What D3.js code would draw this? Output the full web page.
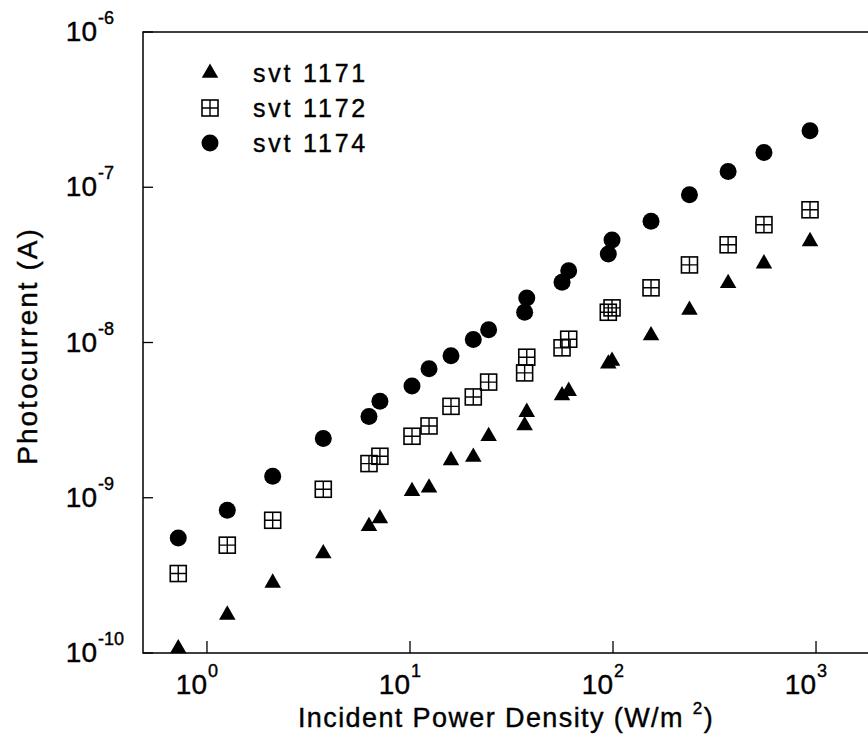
<!DOCTYPE html>
<html lang="en">
<head>
  <meta charset="utf-8">
  <title>Photocurrent vs incident power density</title>
  <script src="https://d3js.org/d3.v7.min.js"></script>
  <style>
    body { margin: 0; background: white; }
    text { font-family: "Liberation Sans", Arial, sans-serif; fill: black; stroke: black; stroke-width: 0.4px; }
    .axis-line { stroke: black; stroke-width: 1.5; fill: none; }
    .tick { stroke: black; stroke-width: 1.3; }
  </style>
</head>
<body>
  <div id="chart"></div>
  <script>
    // incident power density (W/m^2), shared by the three samples
    var power = [0.722, 1.259, 2.107, 3.74, 6.28, 7.11, 10.23, 12.41, 15.92, 20.5, 24.4,
                 36.7, 37.6, 56.1, 60.5, 94.8, 98.9, 153.9, 238, 369, 554, 934];
    // photocurrent (A)
    var svt1171 = [1.07e-10, 1.76e-10, 2.83e-10, 4.38e-10, 6.55e-10, 7.35e-10, 1.10e-9, 1.16e-9,
                   1.74e-9, 1.83e-9, 2.49e-9, 2.92e-9, 3.56e-9, 4.56e-9, 4.86e-9, 7.3e-9, 7.6e-9,
                   1.11e-8, 1.62e-8, 2.41e-8, 3.22e-8, 4.48e-8];
    var svt1172 = [3.25e-10, 4.95e-10, 7.16e-10, 1.134e-9, 1.66e-9, 1.85e-9, 2.49e-9, 2.90e-9,
                   3.88e-9, 4.46e-9, 5.56e-9, 6.37e-9, 8.04e-9, 9.24e-9, 1.05e-8, 1.566e-8,
                   1.671e-8, 2.25e-8, 3.16e-8, 4.26e-8, 5.74e-8, 7.16e-8];
    var svt1174 = [5.51e-10, 8.31e-10, 1.375e-9, 2.41e-9, 3.34e-9, 4.19e-9, 5.25e-9, 6.78e-9,
                   8.22e-9, 1.045e-8, 1.208e-8, 1.566e-8, 1.932e-8, 2.44e-8, 2.90e-8, 3.72e-8,
                   4.58e-8, 6.03e-8, 8.95e-8, 1.264e-7, 1.674e-7, 2.31e-7];
    var seriesNames = ['svt 1171', 'svt 1172', 'svt 1174'];
    var xTickExps = [0, 1, 2, 3];
    var yTickExps = [-10, -9, -8, -7, -6];

    var W = 868, H = 744;
    var plotLeft = 143, plotTop = 32, plotBottom = 653, plotRight = 880;

    var x = d3.scaleLog().domain([0.484, 2066]).range([plotLeft, plotRight]);
    var y = d3.scaleLog().domain([1e-10, 1e-6]).range([plotBottom, plotTop]);

    var svg = d3.select('#chart').append('svg')
      .attr('width', W)
      .attr('height', H);

    // frame: left, top, bottom (right side runs off the page)
    svg.append('path')
      .attr('class', 'axis-line')
      .attr('d', 'M' + plotRight + ',' + plotTop + 'H' + plotLeft + 'V' + plotBottom + 'H' + plotRight);

    // x ticks (inward)
    svg.selectAll('line.xtick')
      .data(xTickExps)
      .enter().append('line')
      .attr('class', 'tick')
      .attr('x1', function (d) { return x(Math.pow(10, d)); })
      .attr('x2', function (d) { return x(Math.pow(10, d)); })
      .attr('y1', plotBottom)
      .attr('y2', plotBottom - 12);

    // y ticks (inward)
    svg.selectAll('line.ytick')
      .data(yTickExps)
      .enter().append('line')
      .attr('class', 'tick')
      .attr('x1', plotLeft)
      .attr('x2', plotLeft + 10)
      .attr('y1', function (d) { return y(Math.pow(10, d)); })
      .attr('y2', function (d) { return y(Math.pow(10, d)); });

    // x tick labels: 10 with superscript
    var xl = svg.selectAll('g.xlab')
      .data(xTickExps)
      .enter().append('g')
      .attr('class', 'xlab');
    xl.append('text')
      .attr('x', function (d) { return x(Math.pow(10, d)); })
      .attr('y', 694)
      .attr('text-anchor', 'end')
      .style('font-size', '28px')
      .text('10');
    xl.append('text')
      .attr('x', function (d) { return x(Math.pow(10, d)) + 1; })
      .attr('y', 677)
      .style('font-size', '18px')
      .text(function (d) { return d; });

    // y tick labels: "10" right edge fixed, exponent follows
    var yl = svg.selectAll('g.ylab')
      .data(yTickExps)
      .enter().append('g')
      .attr('class', 'ylab');
    yl.append('text')
      .attr('x', 97)
      .attr('y', function (d) { return y(Math.pow(10, d)) + 9; })
      .attr('text-anchor', 'end')
      .style('font-size', '28px')
      .text('10');
    yl.append('text')
      .attr('x', 98)
      .attr('y', function (d) { return y(Math.pow(10, d)) - 8; })
      .style('font-size', '18px')
      .text(function (d) { return d; });

    // axis titles
    var xt = svg.append('text')
      .attr('x', 506)
      .attr('y', 727)
      .attr('text-anchor', 'middle')
      .style('font-size', '27px')
      .style('letter-spacing', '1.4px');
    xt.append('tspan').text('Incident Power Density (W/m ');
    xt.append('tspan').attr('dy', -13).style('font-size', '17px').text('2');
    xt.append('tspan').attr('dy', 13).text(')');

    svg.append('text')
      .attr('transform', 'translate(37,346) rotate(-90)')
      .attr('text-anchor', 'middle')
      .style('font-size', '28px')
      .style('letter-spacing', '2px')
      .text('Photocurrent (A)');

    // marker drawers
    function drawTriangle(sel) {
      sel.append('path')
        .attr('d', d3.symbol(d3.symbolTriangle, 118)())
        .attr('fill', 'black');
    }
    function drawSquare(sel) {
      var s = 8;
      sel.append('rect')
        .attr('x', -s).attr('y', -s)
        .attr('width', 2 * s).attr('height', 2 * s)
        .attr('fill', 'none')
        .attr('stroke', 'black')
        .attr('stroke-width', 1.6);
      sel.append('path')
        .attr('d', 'M' + (-s) + ',0H' + s + 'M0,' + (-s) + 'V' + s)
        .attr('stroke', 'black')
        .attr('stroke-width', 1.4);
    }
    function drawCircle(sel) {
      sel.append('circle')
        .attr('r', 8.5)
        .attr('fill', 'black');
    }
    var drawers = [drawTriangle, drawSquare, drawCircle];
    var seriesValues = [svt1171, svt1172, svt1174];

    seriesValues.forEach(function (vals, k) {
      var pts = svg.selectAll('g.pt' + k)
        .data(vals)
        .enter().append('g')
        .attr('class', 'pt' + k)
        .attr('transform', function (d, i) {
          return 'translate(' + x(power[i]) + ',' + y(d) + ')';
        });
      drawers[k](pts);
    });

    // legend
    var legendY = d3.scaleLinear().domain([0, 1]).range([73, 108]);
    seriesNames.forEach(function (name, k) {
      var g = svg.append('g')
        .attr('transform', 'translate(210,' + legendY(k) + ')');
      drawers[k](g);
      svg.append('text')
        .attr('x', 253)
        .attr('y', legendY(k) + 9)
        .style('font-size', '25px')
        .style('letter-spacing', '2.8px')
        .text(name);
    });
  </script>
</body>
</html>
